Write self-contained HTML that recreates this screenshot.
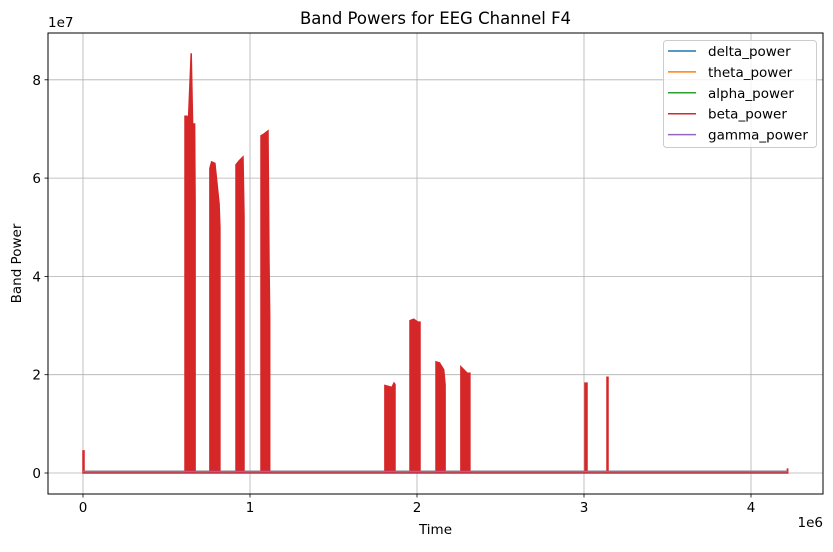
<!DOCTYPE html>
<html><head><meta charset="utf-8"><style>
body{margin:0;background:#fff}
svg text{font-family:"DejaVu Sans","Liberation Sans",sans-serif;fill:#000}
</style></head><body>
<svg id="chart" width="833" height="547" xmlns="http://www.w3.org/2000/svg">
<rect x="0" y="0" width="833" height="547" fill="#fff"/>
<g id="grid"></g>
<g id="series"></g>
<rect x="48" y="33" width="775" height="461" fill="none" stroke="#000" stroke-width="1"/>
<g id="axes"></g>
<text x="435.5" y="24" font-size="16.5" text-anchor="middle">Band Powers for EEG Channel F4</text>
<text x="435.5" y="534" font-size="13.5" text-anchor="middle">Time</text>
<text transform="translate(21,263.5) rotate(-90)" font-size="13.5" text-anchor="middle">Band Power</text>
<text x="48" y="27" font-size="13.5">1e7</text>
<text x="823" y="527" font-size="13.5" text-anchor="end">1e6</text>
<g id="legend"></g>
</svg>
<script>
const seriesNames=["delta_power","theta_power","alpha_power","beta_power","gamma_power"];
const seriesColors=["#1f77b4","#ff7f0e","#2ca02c","#d62728","#9467bd"];
const xTicks=[0,1,2,3,4];
const yTicks=[0,2,4,6,8];
// beta_power samples (time in 1e6, value in 1e7)
const betaTime=[0,0,0.006,0.006,0.611,0.611,0.623,0.631,0.648,0.656,0.668,0.671,0.671,0.760,0.760,0.770,0.790,0.815,0.820,0.820,0.916,0.916,0.935,0.958,0.964,0.964,1.066,1.066,1.085,1.108,1.114,1.118,1.118,1.808,1.808,1.830,1.850,1.862,1.868,1.868,1.958,1.958,1.980,2.005,2.018,2.018,2.114,2.114,2.135,2.160,2.168,2.168,2.263,2.263,2.280,2.300,2.317,2.317,3.006,3.006,3.018,3.018,3.138,3.138,3.144,3.144,4.218,4.218,4.22,4.22];
const betaValue=[0,0.45,0.45,0,0,7.26,7.26,7.14,8.54,7.1,7.1,5.5,0,0,6.2,6.33,6.3,5.47,5.0,0,0,6.27,6.35,6.43,5.23,0,0,6.86,6.9,6.96,4.29,3.2,0,0,1.78,1.76,1.74,1.83,1.8,0,0,3.1,3.13,3.07,3.07,0,0,2.26,2.24,2.1,1.79,0,0,2.16,2.1,2.03,2.03,0,0,1.83,1.83,0,0,1.95,1.95,0,0,0.08,0.08,0];
const otherTime=[0,4.22];
const otherValue=[0.03,0.03];
const gammaValue=[0.03,0.03];

const X0=83,XS=167,Y0=473,YS=49.15;
const sx=t=>X0+t*XS, sy=v=>Y0-v*YS;
const NS="http://www.w3.org/2000/svg";
function mk(tag,attrs,parent){const e=document.createElementNS(NS,tag);for(const k in attrs)e.setAttribute(k,attrs[k]);parent.appendChild(e);return e;}
const grid=document.getElementById('grid'),axes=document.getElementById('axes'),ser=document.getElementById('series'),leg=document.getElementById('legend');
xTicks.forEach(t=>{
  const g=mk('line',{x1:sx(t),x2:sx(t),y1:33,y2:494,stroke:'#b0b0b0','stroke-width':0.8},grid);
  
  
  const tk=mk('line',{x1:sx(t),x2:sx(t),y1:494,y2:497.5,stroke:'#000','stroke-width':0.8},axes);
  
  
  const tx=mk('text',{x:sx(t),y:512,'font-size':13.5,'text-anchor':'middle'},axes);
  tx.textContent=t;
  
  
});
yTicks.forEach(v=>{
  const g=mk('line',{x1:48,x2:823,y1:sy(v),y2:sy(v),stroke:'#b0b0b0','stroke-width':0.8},grid);
  
  
  const tk=mk('line',{x1:44.5,x2:48,y1:sy(v),y2:sy(v),stroke:'#000','stroke-width':0.8},axes);
  
  
  const tx=mk('text',{x:41,y:sy(v)+5,'font-size':13.5,'text-anchor':'end'},axes);
  tx.textContent=v;
  
  
});
function pts(ts,vs){return ts.map((t,i)=>sx(t).toFixed(1)+','+sy(vs[i]).toFixed(1)).join(' ');}
[0,1,2].forEach(i=>{
  const l=mk('polyline',{points:pts(otherTime,otherValue),fill:'none',stroke:seriesColors[i],'stroke-width':1.5},ser);
  
  
});
const b=mk('polygon',{points:pts(betaTime,betaValue),fill:seriesColors[3],stroke:seriesColors[3],'stroke-width':1.5,'stroke-linejoin':'miter'},ser);


const gl=mk('polyline',{points:pts(otherTime,gammaValue),fill:'none',stroke:seriesColors[4],'stroke-width':1.5},ser);


const box=mk('rect',{x:663.5,y:40.5,width:153,height:107,rx:3,fill:'#fff','fill-opacity':0.8,stroke:'#ccc','stroke-width':1},leg);


seriesNames.forEach((n,i)=>{
  const y=51+i*20.9;
  const g=mk('g',{},leg);
  
  
  mk('line',{x1:668,x2:696,y1:y,y2:y,stroke:seriesColors[i],'stroke-width':1.5},g);
  const t=mk('text',{x:708,y:y+5,'font-size':13.5},g);
  t.textContent=n;
});
</script>
</body></html>
